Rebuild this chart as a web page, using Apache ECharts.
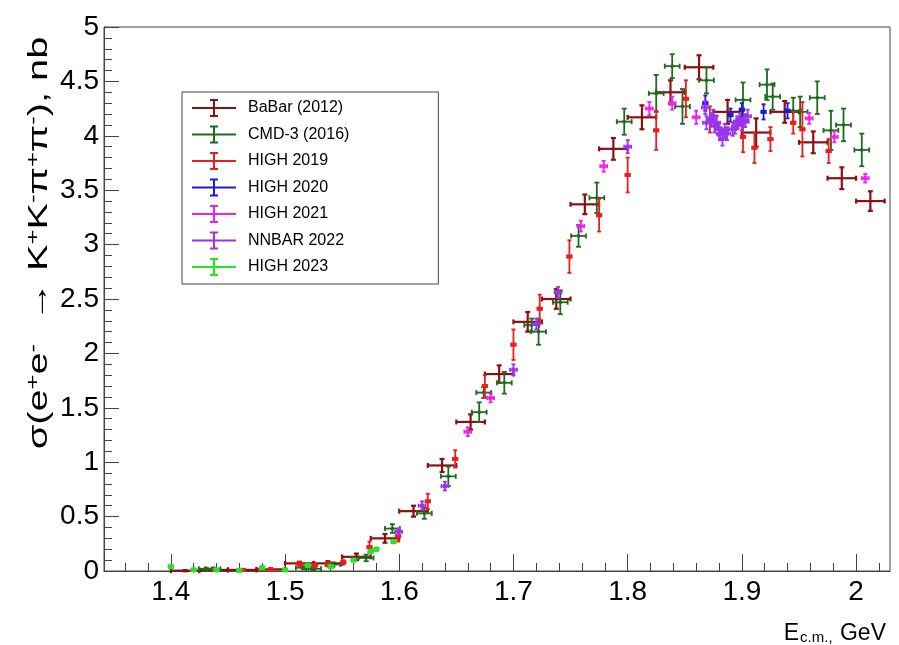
<!DOCTYPE html>
<html><head><meta charset="utf-8">
<script src="https://cdn.jsdelivr.net/npm/echarts@6/dist/echarts.min.js"></script>
<style>html,body{margin:0;padding:0;background:#fff}#c{width:899px;height:645px}</style>
</head><body><div id="c"></div>
<script>
// ---------- data ----------
const seriesNames = ['BaBar (2012)', 'CMD-3 (2016)', 'HIGH 2019', 'HIGH 2020', 'HIGH 2021', 'NNBAR 2022', 'HIGH 2023'];

const babarE = [1.4125,1.4375,1.4625,1.4875,1.5125,1.5375,1.5625,1.5875,1.6125,1.6375,1.6625,1.6875,1.7125,1.7375,1.7625,1.7875,1.8125,1.8375,1.8625,1.8875,1.9125,1.9375,1.9625,1.9875,2.0125];
const babarY = [0.003,0.01,0.01,0.015,0.07,0.07,0.13,0.30,0.55,0.97,1.37,1.81,2.29,2.50,3.37,3.88,4.17,4.40,4.63,4.22,4.03,4.22,3.94,3.61,3.40];
const babarErr = [0.005,0.008,0.008,0.01,0.015,0.02,0.03,0.04,0.05,0.06,0.07,0.08,0.09,0.09,0.09,0.10,0.11,0.11,0.11,0.11,0.13,0.10,0.10,0.10,0.09];
const babarHalfBin = 0.0125;

const cmdE = [1.431,1.437,1.516,1.525,1.542,1.571,1.594,1.622,1.643,1.670,1.674,1.692,1.716,1.722,1.741,1.757,1.773,1.797,1.825,1.839,1.848,1.869,1.901,1.922,1.927,1.945,1.951,1.966,1.978,1.989,2.005];
const cmdY = [0.02,0.02,0.03,0.02,0.06,0.12,0.39,0.53,0.87,1.46,1.64,1.73,2.26,2.20,2.47,3.08,3.43,4.13,4.39,4.64,4.27,4.51,4.33,4.47,4.36,4.23,4.22,4.35,4.05,4.10,3.87];
const cmdErr = [0.01,0.01,0.015,0.015,0.02,0.03,0.04,0.05,0.09,0.09,0.05,0.10,0.06,0.12,0.11,0.10,0.14,0.12,0.17,0.11,0.16,0.12,0.16,0.14,0.12,0.12,0.14,0.15,0.18,0.15,0.15];
const cmdHalfWidth = 0.0065;

const h19E = [1.4385,1.463,1.4875,1.513,1.526,1.538,1.551,1.574,1.599,1.625,1.649,1.675,1.700,1.723,1.749,1.775,1.800,1.825,1.851,1.872,1.901,1.911,1.925,1.945,1.953,1.976];
const h19Y = [0.01,0.01,0.01,0.06,0.05,0.06,0.08,0.22,0.32,0.64,1.03,1.70,2.08,2.41,2.89,3.27,3.64,4.05,4.34,4.15,3.99,3.89,3.97,4.12,4.06,3.86];
const h19Err = [0.01,0.01,0.01,0.02,0.02,0.02,0.02,0.05,0.05,0.07,0.08,0.10,0.14,0.13,0.15,0.15,0.16,0.18,0.17,0.12,0.14,0.14,0.11,0.10,0.25,0.11];
const h19HalfWidth = 0.002;

const h20E = [1.868,1.890,1.900,1.919,1.940];
const h20Y = [4.30,4.19,4.24,4.22,4.23];
const h20Err = [0.07,0.06,0.06,0.07,0.07];
const h20HalfWidth = 0.002;

const h21E = [1.660,1.680,1.759,1.779,1.819,1.839,1.860,1.959,1.981,2.008];
const h21Y = [1.28,1.59,3.17,3.72,4.25,4.30,4.17,4.16,3.99,3.61];
const h21Err = [0.04,0.04,0.05,0.05,0.06,0.06,0.06,0.05,0.05,0.04];
const h21HalfWidth = 0.003;

const nnE = [1.5995,1.620,1.640,1.700,1.720,1.739,1.800,1.868,1.869,1.873,1.875,1.876,1.878,1.880,1.881,1.883,1.885,1.887,1.892,1.894,1.896,1.898,1.900,1.903,1.905];
const nnY = [0.36,0.60,0.78,1.85,2.27,2.56,3.90,4.26,4.12,4.15,4.18,4.09,4.12,4.06,4.02,3.97,4.05,4.02,4.06,4.08,4.12,4.15,4.11,4.14,4.18];
const nnErr = [0.03,0.04,0.04,0.05,0.05,0.05,0.06,0.06,0.06,0.06,0.06,0.06,0.06,0.06,0.06,0.06,0.06,0.06,0.06,0.06,0.06,0.06,0.06,0.06,0.06];
const nnHalfWidth = 0.003;

const h23E = [1.400,1.420,1.440,1.460,1.480,1.500,1.520,1.540,1.560,1.575,1.580,1.595];
const h23Y = [0.04,0.01,0.01,0.005,0.03,0.01,0.05,0.04,0.10,0.18,0.20,0.27];
const h23Err = [0.01,0.005,0.005,0.005,0.01,0.005,0.01,0.01,0.01,0.015,0.015,0.015];
const h23HalfWidth = 0.002;

const xTickValues = [1.4,1.5,1.6,1.7,1.8,1.9,2.0];
const xMinorTickValues = [1.36,1.38,1.42,1.44,1.46,1.48,1.52,1.54,1.56,1.58,1.62,1.64,1.66,1.68,1.72,1.74,1.76,1.78,1.82,1.84,1.86,1.88,1.92,1.94,1.96,1.98,2.02];

const yTitle = '{t|σ(e}{s|+}{t|e}{s|-}{t|  → K}{s|+}{t|K}{s|-}{t|π}{s|+}{t|π}{s|-}{t|), nb}';
const xTitle = '{e|E}{s|c.m.,}{g| GeV}';

// ---------- chart ----------
const FN = "'Liberation Sans', Arial, Helvetica, sans-serif";
const colors = ['#8c1010', '#1d6b1d', '#ee1c1c', '#1c1cd0', '#ee22ee', '#9a33ee', '#22e622'];

function build(E, Y, Err, halfW) {
  return E.map((e, i) => [e, Y[i], halfW, Err[i]]);
}

function makeRender(cap, marker, lw) {
  return function (params, api) {
    const x = api.value(0), y = api.value(1), ex = api.value(2), ey = api.value(3);
    const c = api.coord([x, y]);
    const l = api.coord([x - ex, y]);
    const r = api.coord([x + ex, y]);
    const lo = api.coord([x, y - ey]);
    const hi = api.coord([x, y + ey]);
    const color = api.visual('color');
    const st = { stroke: color, lineWidth: lw, fill: null };
    const ch = [
      { type: 'line', shape: { x1: l[0], y1: c[1], x2: r[0], y2: c[1] }, style: st },
      { type: 'line', shape: { x1: c[0], y1: lo[1], x2: c[0], y2: hi[1] }, style: st },
      { type: 'line', shape: { x1: c[0] - cap, y1: lo[1], x2: c[0] + cap, y2: lo[1] }, style: st },
      { type: 'line', shape: { x1: c[0] - cap, y1: hi[1], x2: c[0] + cap, y2: hi[1] }, style: st },
      { type: 'line', shape: { x1: l[0], y1: c[1] - cap, x2: l[0], y2: c[1] + cap }, style: st },
      { type: 'line', shape: { x1: r[0], y1: c[1] - cap, x2: r[0], y2: c[1] + cap }, style: st }
    ];
    if (marker > 0) {
      ch.push({ type: 'rect', shape: { x: c[0] - marker / 2, y: c[1] - marker / 2, width: marker, height: marker }, style: { fill: color } });
    }
    return { type: 'group', children: ch };
  };
}

const datasets = [
  build(babarE, babarY, babarErr, babarHalfBin),
  build(cmdE, cmdY, cmdErr, cmdHalfWidth),
  build(h19E, h19Y, h19Err, h19HalfWidth),
  build(h20E, h20Y, h20Err, h20HalfWidth),
  build(h21E, h21Y, h21Err, h21HalfWidth),
  build(nnE, nnY, nnErr, nnHalfWidth),
  build(h23E, h23Y, h23Err, h23HalfWidth)
];
const markers = [0, 3, 4, 4, 4, 4, 5];
const caps = [2.5, 2.5, 2, 2, 2, 2, 2];

const series = datasets.map((d, i) => ({
  name: seriesNames[i],
  type: 'custom',
  xAxisIndex: 0, yAxisIndex: 0,
  renderItem: makeRender(caps[i], markers[i], i === 0 ? 2.2 : 1.8),
  encode: { x: 0, y: 1 },
  itemStyle: { color: colors[i] },
  data: d,
  z: 2 + i
}));

const iconPath = 'path://M0 9L44 9L44 11L0 11Z M21 2L23 2L23 18L21 18Z M18 1L26 1L26 3L18 3Z M18 17L26 17L26 19L18 19Z';

const chart = echarts.init(document.getElementById('c'), null, { renderer: 'canvas' });
chart.setOption({
  backgroundColor: '#fff',
  animation: false,
  grid: [
    { left: 104, right: 9, top: 27, bottom: 73, show: true, borderColor: '#444', borderWidth: 1, backgroundColor: 'transparent' },
    { left: 104, right: 9, top: 27, bottom: 73, show: false }
  ],
  legend: {
    orient: 'vertical', left: 182, top: 92,
    itemWidth: 44, itemHeight: 20, itemGap: 8.5,
    padding: [7, 89, 8, 10],
    borderColor: '#444', borderWidth: 1, backgroundColor: '#fff', borderRadius: 0,
    selectedMode: false,
    textStyle: { fontFamily: FN, fontSize: 16, color: '#000', padding: [0, 0, 0, 7] },
    data: seriesNames.map(n => ({ name: n, icon: iconPath }))
  },
  graphic: [
    {
      type: 'text', x: 39, y: 243, rotation: Math.PI / 2, scaleX: 1.42, scaleY: 1, z: 10,
      style: {
        text: yTitle, align: 'center', verticalAlign: 'middle',
        rich: {
          t: { fontFamily: FN, fontSize: 28, fill: '#000' },
          s: { fontFamily: FN, fontSize: 18, fill: '#000', verticalAlign: 'top' }
        }
      }
    }
  ],
  xAxis: [
    {
      type: 'value', gridIndex: 0, min: 1.3415, max: 2.0297, position: 'bottom',
      name: xTitle,
      nameLocation: 'end', nameGap: -4,
      nameTextStyle: {
        align: 'right', verticalAlign: 'top', padding: [51, 0, 0, 0],
        rich: {
          e: { fontFamily: FN, fontSize: 23, color: '#000' },
          s: { fontFamily: FN, fontSize: 15, color: '#000', verticalAlign: 'bottom', padding: [0, 1, 0, 1] },
          g: { fontFamily: FN, fontSize: 23, color: '#000' }
        }
      },
      axisLine: { show: true, onZero: false, lineStyle: { color: '#444', width: 1 } },
      axisTick: { show: true, inside: true, length: 17, customValues: xTickValues, lineStyle: { color: '#444', width: 1 } },
      axisLabel: { show: true, customValues: xTickValues, margin: 7, fontFamily: FN, fontSize: 28, color: '#000',
        formatter: v => String(Math.round(v * 10) / 10) },
      splitLine: { show: false }
    },
    {
      type: 'value', gridIndex: 1, min: 1.3415, max: 2.0297, position: 'bottom',
      axisLine: { show: false },
      axisTick: { show: true, inside: true, length: 9, customValues: xMinorTickValues, lineStyle: { color: '#444', width: 1 } },
      axisLabel: { show: false },
      splitLine: { show: false }
    }
  ],
  yAxis: [
    {
      type: 'value', gridIndex: 0, min: 0, max: 5, interval: 0.5,
      axisLine: { show: true, onZero: false, lineStyle: { color: '#444', width: 1 } },
      axisTick: { show: true, inside: true, length: 15, lineStyle: { color: '#444', width: 1 } },
      minorTick: { show: true, splitNumber: 5, length: 8, lineStyle: { color: '#444', width: 1 } },
      axisLabel: { show: true, margin: 5, fontFamily: FN, fontSize: 28, color: '#000',
        formatter: v => String(Math.round(v * 10) / 10) },
      splitLine: { show: false }, minorSplitLine: { show: false }
    },
    {
      type: 'value', gridIndex: 1, min: 0, max: 5, show: false
    }
  ],
  series: series
});
</script>
</body></html>
